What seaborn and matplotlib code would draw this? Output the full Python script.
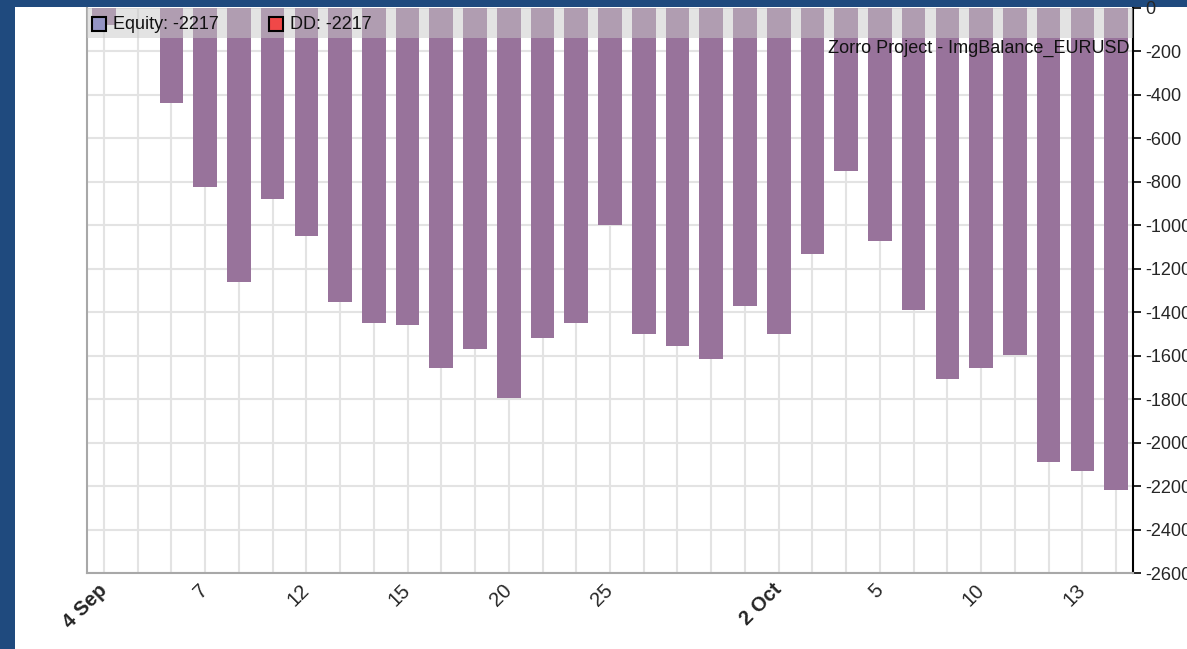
import matplotlib
matplotlib.use("Agg")
import matplotlib.pyplot as plt
import matplotlib.patches as mpatches
import pandas as pd
import seaborn as sns

# trading days (x categories) and equity per day
days = ["2017-09-04", "2017-09-05", "2017-09-06", "2017-09-07", "2017-09-08",
        "2017-09-11", "2017-09-12", "2017-09-13", "2017-09-14", "2017-09-15",
        "2017-09-18", "2017-09-19", "2017-09-20", "2017-09-21", "2017-09-22",
        "2017-09-25", "2017-09-26", "2017-09-27", "2017-09-28", "2017-09-29",
        "2017-10-02", "2017-10-03", "2017-10-04", "2017-10-05", "2017-10-06",
        "2017-10-09", "2017-10-10", "2017-10-11", "2017-10-12", "2017-10-13",
        "2017-10-16"]
equity = [-80, 0, -435, -822, -1263, -880, -1048, -1352, -1448, -1457,
          -1655, -1568, -1796, -1519, -1450, -998, -1501, -1557, -1614, -1370,
          -1499, -1131, -749, -1071, -1389, -1706, -1655, -1595, -2090, -2130,
          -2217]

tick_dates = ["2017-09-04", "2017-09-07", "2017-09-12", "2017-09-15", "2017-09-20",
              "2017-09-25", "2017-10-02", "2017-10-05", "2017-10-10", "2017-10-13"]
tick_labels = ["4 Sep", "7", "12", "15", "20", "25", "2 Oct", "5", "10", "13"]
bold_labels = ["4 Sep", "2 Oct"]

y_ticks = list(range(0, -2601, -200))

legend_items = [("Equity: -2217", "#9494c4"), ("DD: -2217", "#f04848")]
chart_title = "Zorro Project - ImgBalance_EURUSD"

bar_color = "#98739b"
bg_blue = "#1f4a7e"

df = pd.DataFrame({"day": days, "equity": equity})

sns.set_style("white")
plt.rcParams["font.family"] = ["Liberation Sans", "DejaVu Sans"]

fig = plt.figure(figsize=(11.87, 6.49), dpi=100)
fig.patch.set_facecolor(bg_blue)
# white panel inside the blue frame (drawn behind the axes)
fig.patches.append(mpatches.Rectangle((15 / 1187, 0), 1, 1 - 7 / 649,
                                      transform=fig.transFigure, facecolor="white",
                                      edgecolor="none", zorder=-10))

ax = fig.add_axes([87 / 1187, 1 - 573 / 649, (1133 - 87) / 1187, (573 - 8) / 649])
ax.set_zorder(1)
ax.set_facecolor("white")

sns.barplot(data=df, x="day", y="equity", color=bar_color, saturation=1,
            width=0.7, edgecolor="none", ax=ax, zorder=2)

ax.set_xlim(-0.5, len(days) - 0.5)
ax.set_ylim(-2600, 0)

# grid: one vertical line per trading day, horizontal every 200
ax.set_xticks(range(len(days)), minor=True)
ax.set_yticks(y_ticks)
ax.grid(True, which="both", color="#e3e3e3", linewidth=1.5, zorder=0)
ax.set_axisbelow(True)

tick_pos = [days.index(d) for d in tick_dates]
ax.set_xticks(tick_pos)
ax.set_xticklabels(tick_labels, rotation=45, ha="right", va="center",
                   rotation_mode="anchor", fontsize=14.5)
for lbl in ax.get_xticklabels():
    if lbl.get_text() in bold_labels:
        lbl.set_fontweight("bold")
ax.tick_params(axis="x", which="major", length=5, width=1.5, color="black", pad=5)
ax.tick_params(axis="x", which="minor", length=0)

ax.yaxis.tick_right()
ax.set_yticklabels([str(v) for v in y_ticks], fontsize=13)
ax.tick_params(axis="y", length=6, width=1.2, color="black", pad=3, direction="out")

ax.set_xlabel("")
ax.set_ylabel("")

for side in ["left", "bottom"]:
    ax.spines[side].set_color("#a8a8a8")
    ax.spines[side].set_linewidth(1.5)
ax.spines["right"].set_color("black")
ax.spines["right"].set_linewidth(1.5)
ax.spines["top"].set_visible(False)

# translucent legend band on top of the bars
ax.axhspan(-138, 0, color="#c8c8c8", alpha=0.5, zorder=3, linewidth=0)

ytr = ax.get_yaxis_transform()
xs = [0.007, 0.176]
for (txt, col), x0 in zip(legend_items, xs):
    ax.plot([x0 + 0.0045], [-74], marker="s", markersize=10, markerfacecolor=col,
            markeredgecolor="black", markeredgewidth=1.5, transform=ytr,
            clip_on=False, zorder=5)
    ax.text(x0 + 0.018, -74, txt, transform=ytr, ha="left", va="center",
            fontsize=13, color="#111111", zorder=5)

ax.text(0.997, -184, chart_title, transform=ytr, ha="right", va="center",
        fontsize=13, color="#111111", zorder=5)

plt.savefig("out.png", dpi=100, facecolor=fig.get_facecolor())
plt.close()
